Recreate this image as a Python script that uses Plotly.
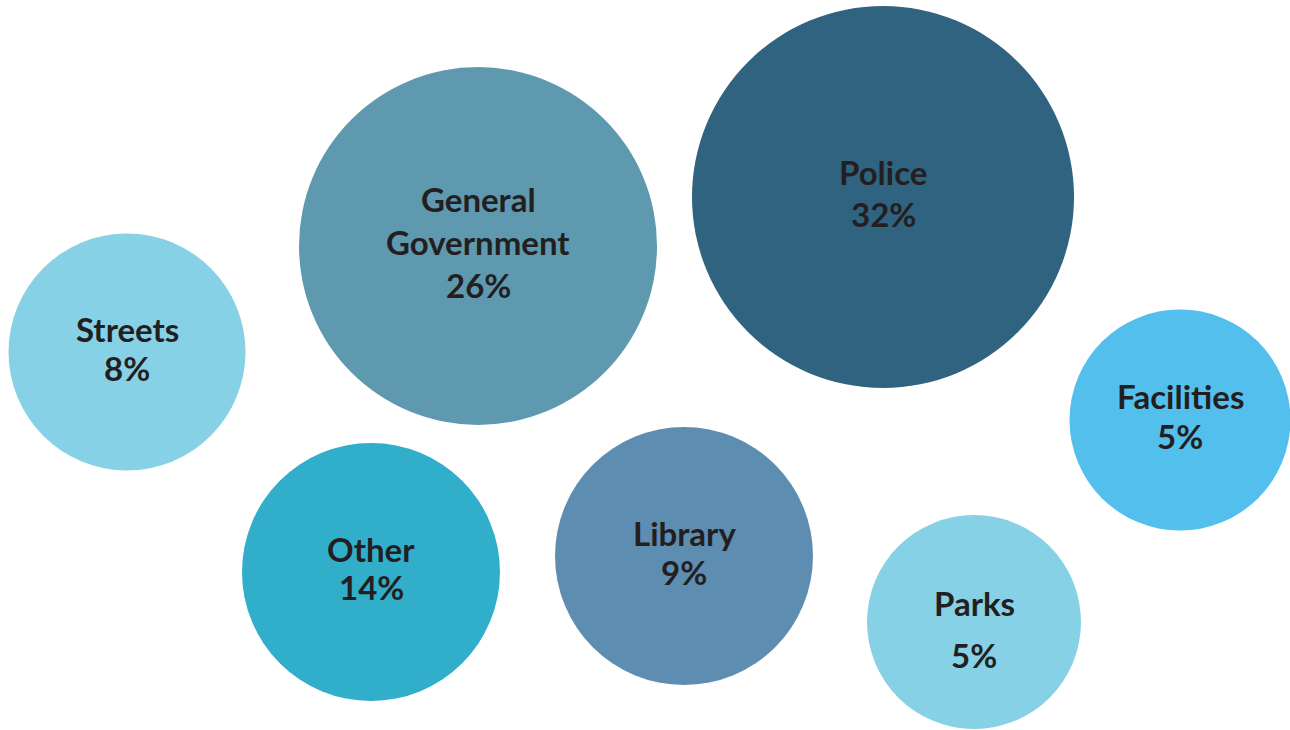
import plotly.graph_objects as go

# ---- data ----
categories = ["Streets", "General<br>Government", "Police", "Facilities", "Other", "Library", "Parks"]
percents = [8, 26, 32, 5, 14, 9, 5]

# bubble layout (chart units on a 1290 x 730 canvas)
bubble_x = [127, 478, 883, 1180, 371, 684, 974]
bubble_y = [352, 246, 197, 420, 572, 556, 622]
bubble_diam = [237, 358, 382, 221, 258, 258, 214]

# styling
colors = ["#86D1E6", "#5E99AF", "#30637F", "#52BFEC", "#31AEC9", "#5E8DB2", "#86D1E6"]
line_gap = [39, 43, 42, 40, 38, 39, 52]
label_dy = [-4, -4, -4, -4, -4, -4, 7]
FONT = "Lato"
TXT = "#231F20"

fig = go.Figure()
fig.add_trace(go.Scatter(
    x=bubble_x, y=bubble_y, mode="markers",
    marker=dict(size=bubble_diam, sizemode="diameter", color=colors, opacity=1,
                line=dict(width=0)),
    hoverinfo="skip", cliponaxis=True,
))

for cat, p, cx, cy, gap, dy in zip(categories, percents, bubble_x, bubble_y, line_gap, label_dy):
    lines = cat.split("<br>") + [f"{p}%"]
    n = len(lines)
    for i, ln in enumerate(lines):
        fig.add_annotation(
            x=cx, y=cy + dy + (i - (n - 1) / 2) * gap,
            text=f"<b>{ln}</b>", showarrow=False,
            font=dict(family=FONT, size=33, color=TXT),
            xanchor="center", yanchor="middle",
        )

fig.update_layout(
    width=1290, height=730,
    margin=dict(l=0, r=0, t=0, b=0),
    paper_bgcolor="white", plot_bgcolor="white",
    showlegend=False,
    xaxis=dict(range=[0, 1290], visible=False, fixedrange=True),
    yaxis=dict(range=[730, 0], visible=False, fixedrange=True),
)

fig.write_html("out.html")
